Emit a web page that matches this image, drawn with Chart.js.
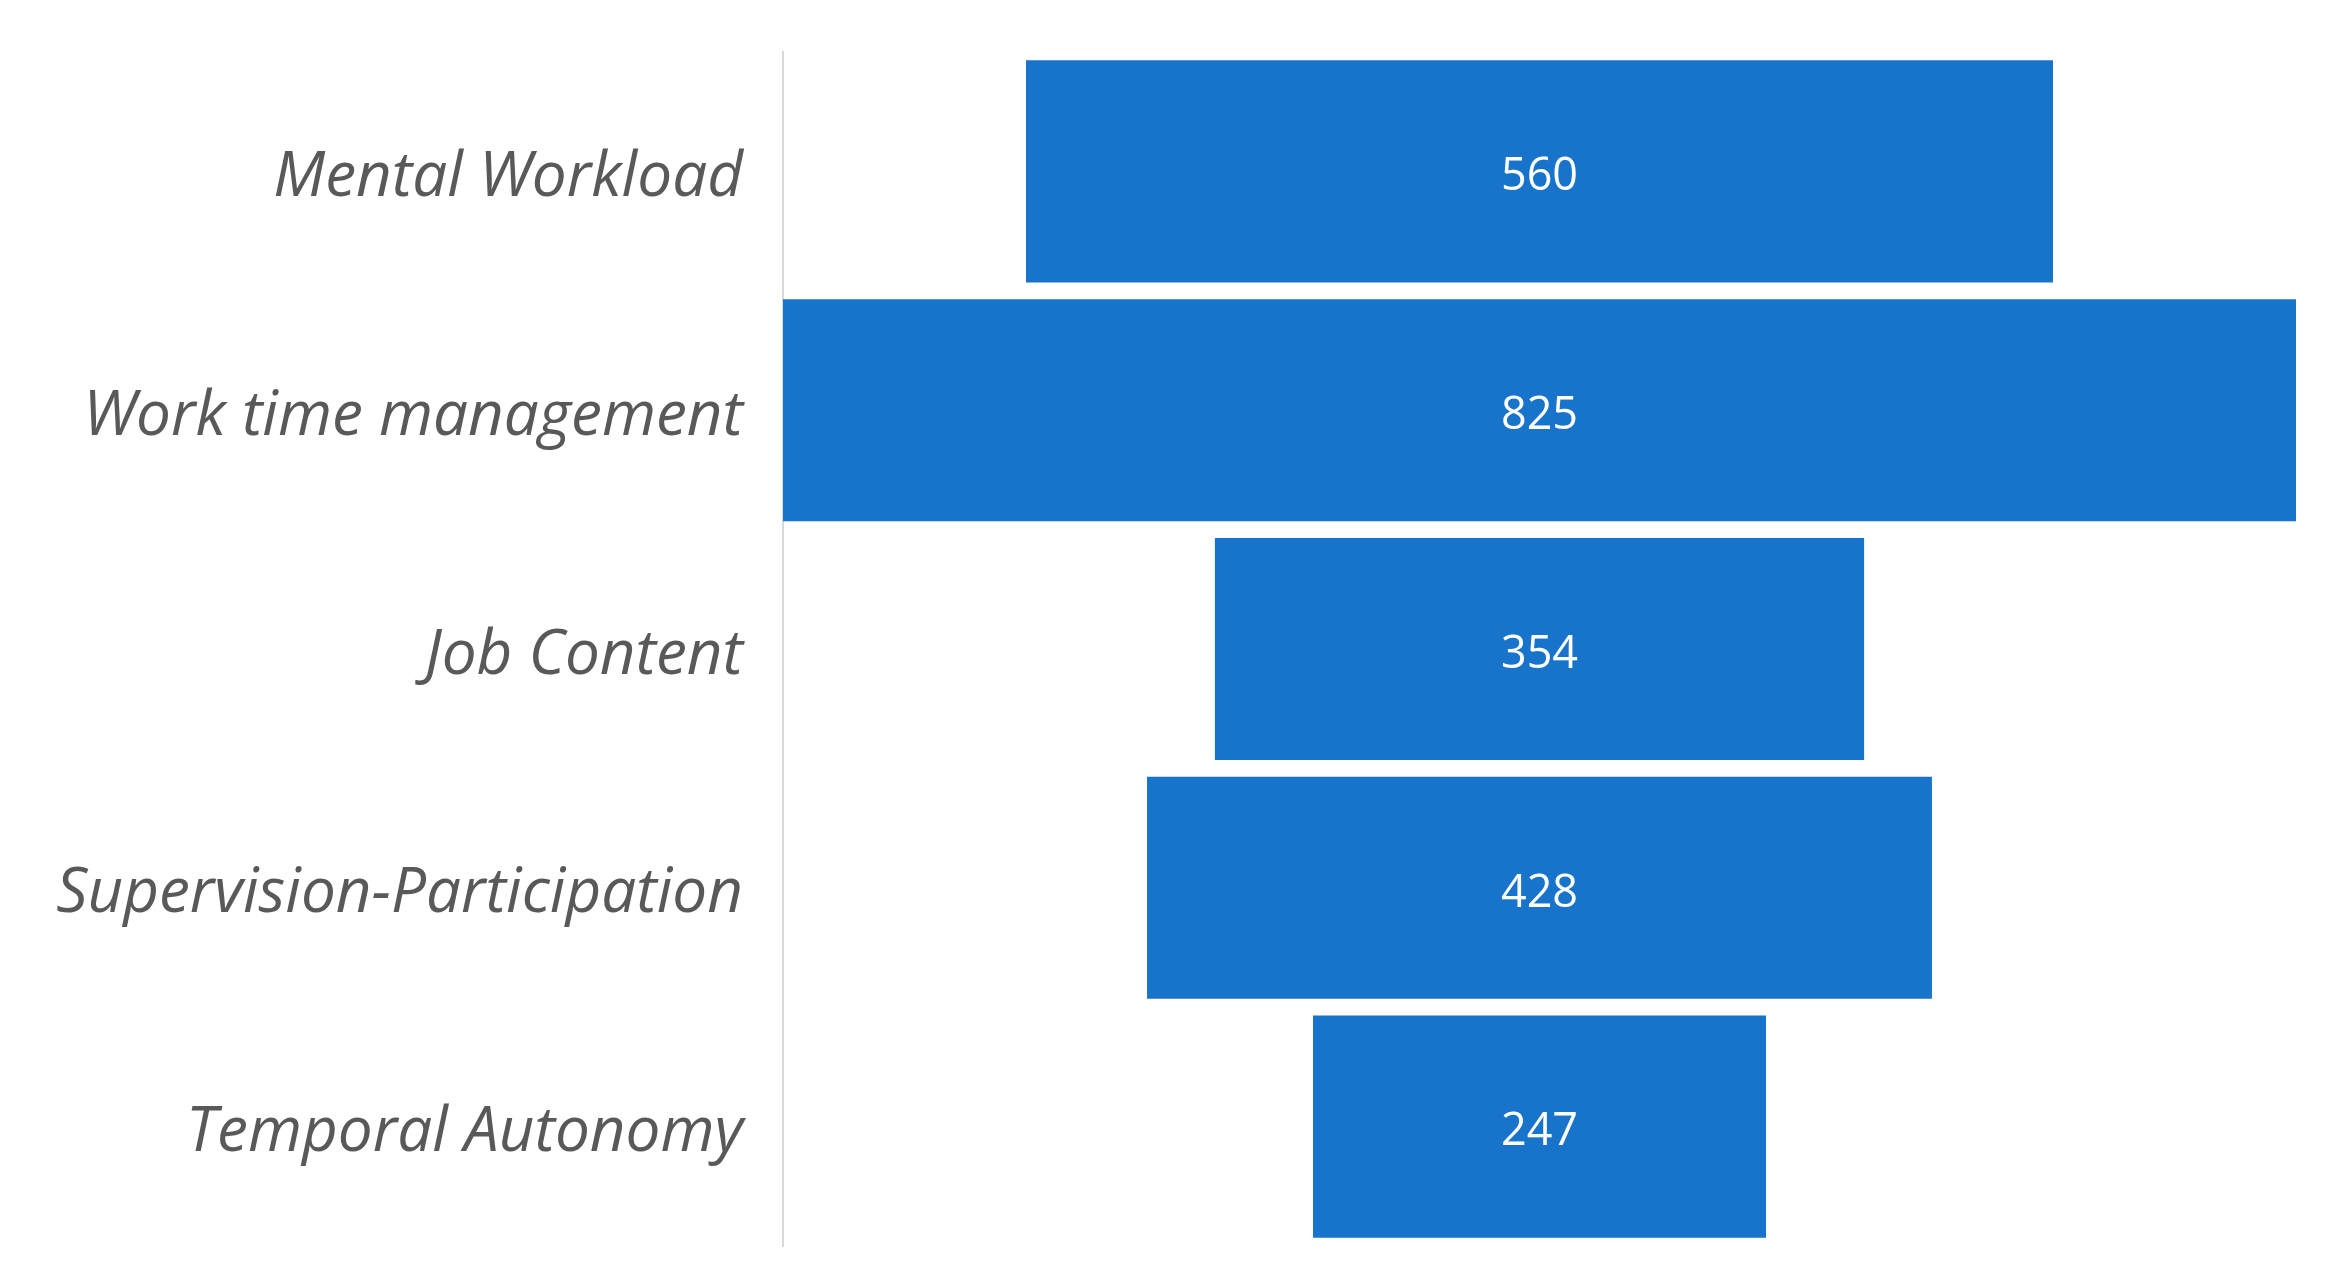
<!DOCTYPE html>
<html>
<head>
<meta charset="utf-8">
<script src="https://cdn.jsdelivr.net/npm/chart.js@4.4.1/dist/chart.umd.min.js"></script>
<style>
  html, body { margin: 0; padding: 0; background: #ffffff; }
  #wrap { width: 2350px; height: 1280px; }
</style>
</head>
<body>
<div id="wrap"><canvas id="funnelChart" width="2350" height="1280"></canvas></div>
<script>
// Data funnel
const categories = ['Mental Workload', 'Work time management', 'Job Content', 'Supervision-Participation', 'Temporal Autonomy'];
const values = [560, 825, 354, 428, 247];

const maxValue = Math.max(...values);

// Label nilai di tengah bar
const valueLabels = {
    id: 'valueLabels',
    afterDatasetsDraw(chart) {
        const ctx = chart.ctx;
        const meta = chart.getDatasetMeta(0);
        ctx.save();
        ctx.fillStyle = '#ffffff';
        ctx.font = '45px "Open Sans"';
        ctx.textAlign = 'center';
        ctx.textBaseline = 'middle';
        meta.data.forEach((bar, i) => {
            const p = bar.getProps(['x', 'y', 'base'], true);
            ctx.fillText(String(values[i]), (p.x + p.base) / 2, p.y + 6);
        });
        ctx.restore();
    }
};

new Chart(document.getElementById('funnelChart').getContext('2d'), {
    type: 'bar',
    data: {
        labels: categories,
        datasets: [{
            data: values.map(v => [-v / 2, v / 2]),
            backgroundColor: '#1873cb',
            borderWidth: 0,
            barPercentage: 0.93,
            categoryPercentage: 1
        }]
    },
    options: {
        indexAxis: 'y',
        responsive: false,
        animation: false,
        layout: {
            padding: { left: 0, right: 54, top: 52, bottom: 34 }
        },
        plugins: {
            legend: { display: false },
            tooltip: { enabled: false }
        },
        scales: {
            x: {
                display: false,
                min: -maxValue / 2,
                max: maxValue / 2
            },
            y: {
                afterFit: function(scale) {
                    scale.width = 783;
                    scale.paddingTop = 0;
                    scale.paddingBottom = 0;
                },
                grid: { display: false, drawTicks: false },
                border: { display: true, color: '#d9d9d9', width: 2 },
                ticks: {
                    padding: 40,
                    labelOffset: 7,
                    color: '#595959',
                    font: { family: '"Open Sans"', size: 62, style: 'italic' }
                }
            }
        }
    },
    plugins: [valueLabels]
});
</script>
</body>
</html>
